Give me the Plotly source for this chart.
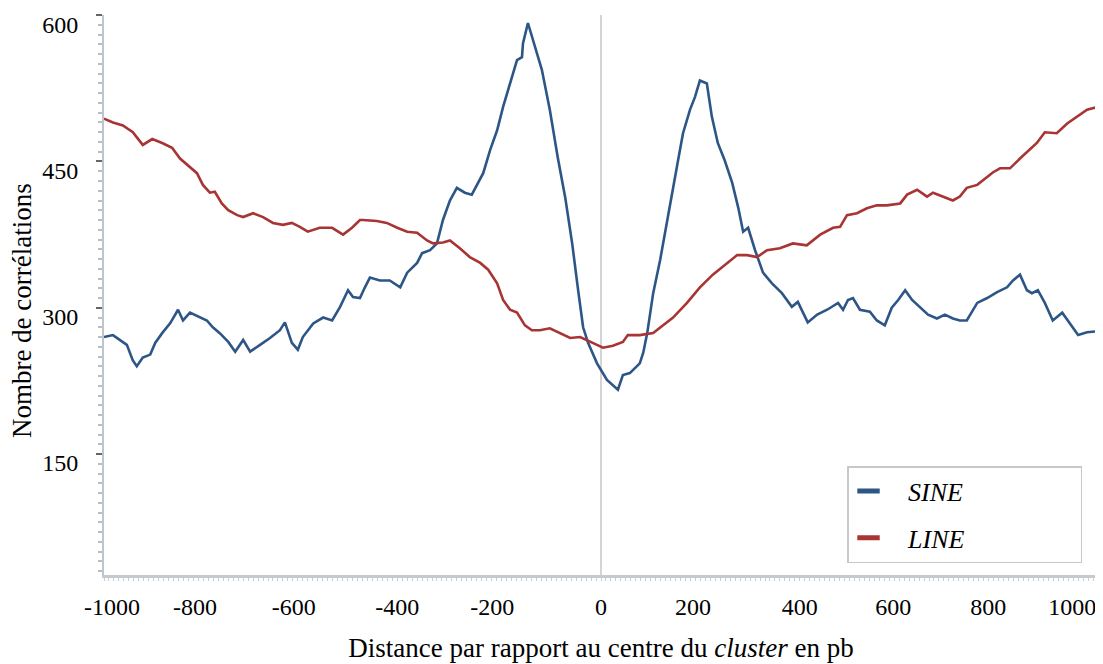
import plotly.graph_objects as go

# ---- data ----
sine_x = [-1000, -982, -954, -942, -934, -922, -907, -897, -883, -867, -851, -841, -827, -807, -793,
          -781, -767, -750, -736, -720, -706, -686, -666, -646, -636, -622, -610, -600, -579, -559,
          -541, -525, -509, -499, -485, -475, -465, -445, -425, -404, -390, -370, -360, -344, -330,
          -318, -304, -290, -274, -260, -249, -237, -223, -209, -197, -183, -169, -159, -157, -147,
          -137, -119, -103, -87, -72, -58, -46, -36, -26, -8, 12, 34, 44, 58, 78, 85, 93, 105, 119,
          133, 143, 155, 165, 179, 189, 199, 213, 223, 235, 249, 264, 276, 286, 296, 310, 326, 344,
          364, 384, 396, 416, 435, 455, 477, 487, 497, 507, 521, 541, 555, 571, 585, 598, 612, 626,
          642, 658, 676, 692, 708, 722, 736, 757, 777, 797, 817, 829, 843, 857, 867, 879, 893, 909,
          928, 944, 960, 978, 1000]
sine_y = [270, 272, 262, 246, 240, 249, 252, 264, 274, 284, 298, 287, 295, 290, 287,
          280, 274, 265, 255, 267, 255, 262, 269, 277, 285, 264, 257, 270, 284, 290,
          287, 301, 318, 311, 310, 321, 331, 328, 328, 321, 336, 346, 356, 359, 366,
          390, 410, 423, 418, 416, 426, 438, 462, 482, 506, 531, 554, 557, 571, 592,
          574, 544, 503, 454, 413, 366, 318, 280, 264, 243, 226, 216, 231, 233, 243, 254, 274, 315, 349,
          390, 418, 451, 479, 503, 516, 533, 530, 496, 469, 451, 428, 403, 378, 382, 359, 336, 325,
          315, 301, 306, 285, 293, 298, 305, 298, 308, 310, 298, 296, 287, 282, 300, 308, 318, 308,
          300, 293, 289, 293, 289, 287, 287, 305, 310, 316, 321, 328, 334, 318, 315, 318, 305, 287,
          295, 284, 272, 275, 276]

line_x = [-1000, -982, -962, -942, -922, -903, -883, -863, -847, -827, -813, -801, -787, -777, -763,
          -750, -732, -720, -700, -680, -660, -640, -622, -606, -590, -566, -541, -519, -501, -485,
          -479, -451, -431, -410, -390, -370, -350, -338, -318, -304, -284, -264, -243, -227, -209,
          -197, -183, -169, -153, -139, -123, -103, -82, -62, -42, -28, -8, 4, 24, 44, 54, 78, 105,
          125, 145, 173, 199, 225, 254, 274, 294, 314, 334, 360, 386, 414, 441, 467, 481, 495, 515,
          535, 555, 575, 602, 616, 636, 656, 668, 688, 708, 722, 736, 757, 773, 789, 803, 823, 843,
          863, 877, 893, 917, 938, 958, 978, 1000]
line_y = [494, 490, 487, 480, 467, 473, 469, 464, 453, 444, 438, 426, 418, 419, 407,
          400, 395, 393, 397, 393, 387, 385, 387, 383, 378, 382, 382, 375, 382, 390,
          390, 389, 387, 382, 378, 377, 369, 366, 367, 369, 361, 352, 346, 339, 325,
          308, 298, 295, 282, 277, 277, 279, 274, 269, 270, 267, 262, 259, 261, 265, 272, 272, 274,
          282, 290, 305, 321, 334, 346, 354, 354, 352, 359, 361, 366, 364, 375, 382, 383, 395, 397,
          402, 405, 405, 407, 416, 421, 414, 418, 414, 410, 414, 423, 426, 433, 439, 443, 443, 453,
          462, 469, 480, 479, 489, 496, 503, 506]

series_names = ["SINE", "LINE"]
series_colors = ["#2d5687", "#a83434"]

x_tick_labels = ["-1000", "-800", "-600", "-400", "-200", "0", "200", "400", "600", "800", "1000"]
# positions where the reference prints its x labels
x_tick_positions = [-984, -817, -618, -410, -219, 0, 185, 400, 588, 779, 948]
y_tick_values = [150, 300, 450, 600]

FONT = "Liberation Serif"
NB = "\u00a0"

fig = go.Figure()
for xs, ys, name, col in [(sine_x, sine_y, series_names[0], series_colors[0]),
                          (line_x, line_y, series_names[1], series_colors[1])]:
    fig.add_trace(go.Scatter(x=xs, y=ys, mode="lines", name=name, showlegend=False,
                             line=dict(color=col, width=2.6)))
# legend entries (short thick dash like the reference)
for i, (name, col) in enumerate(zip(series_names, series_colors)):
    fig.add_trace(go.Scatter(x=[None], y=[None], mode="markers",
                             name=NB * 3 + f"<i>{name}</i>" + NB * 17,
                             legendgroup=f"g{i}",
                             marker=dict(symbol="line-ew-open", size=16, color=col,
                                         line=dict(width=5, color=col))))

# the page body adds an 8px offset, so the figure is 8px smaller than the window
fig.update_layout(
    width=1095, height=656,
    margin=dict(l=96, r=5, t=7, b=89),
    paper_bgcolor="white", plot_bgcolor="white",
    font=dict(family=FONT, size=24, color="black"),
    showlegend=True,
    legend=dict(x=0.7475, y=0.1946, xanchor="left", yanchor="top",
                bordercolor="#c8c8c8", borderwidth=1.5, bgcolor="white",
                font=dict(family=FONT, size=26), traceorder="grouped",
                tracegroupgap=10, itemwidth=30),
    xaxis=dict(range=[-1000, 1000], showgrid=False, automargin=False,
               zeroline=True, zerolinecolor="#d4d4d4", zerolinewidth=2,
               showline=True, linecolor="#c4cbd0", linewidth=2.5,
               tickmode="array", tickvals=x_tick_positions, ticktext=x_tick_labels,
               ticks="", ticklabelstandoff=8,
               tickfont=dict(family=FONT, size=24),
               minor=dict(ticks="outside", ticklen=3, tickcolor="#c9cfd3", dtick=10),
               title=dict(text="Distance par rapport au centre du <i>cluster</i> en pb",
                          font=dict(family=FONT, size=27), standoff=20)),
    yaxis=dict(range=[26, 600.2], showgrid=False, zeroline=False, automargin=False,
               showline=True, linecolor="#bcc6cd", linewidth=2,
               tickmode="array", tickvals=y_tick_values,
               ticks="outside", ticklen=6, tickcolor="#666666", tickwidth=1.5,
               ticklabelshift=9, ticklabelstandoff=13,
               tickfont=dict(family=FONT, size=24),
               minor=dict(ticks="outside", ticklen=4, tickcolor="#b5bec5", dtick=10)),
    annotations=[dict(text="Nombre de corrélations", textangle=-90, showarrow=False,
                      xref="paper", yref="paper", x=-0.0825, y=0.473,
                      xanchor="center", yanchor="middle",
                      font=dict(family=FONT, size=27, color="black"))],
)

fig.write_html("out.html")
